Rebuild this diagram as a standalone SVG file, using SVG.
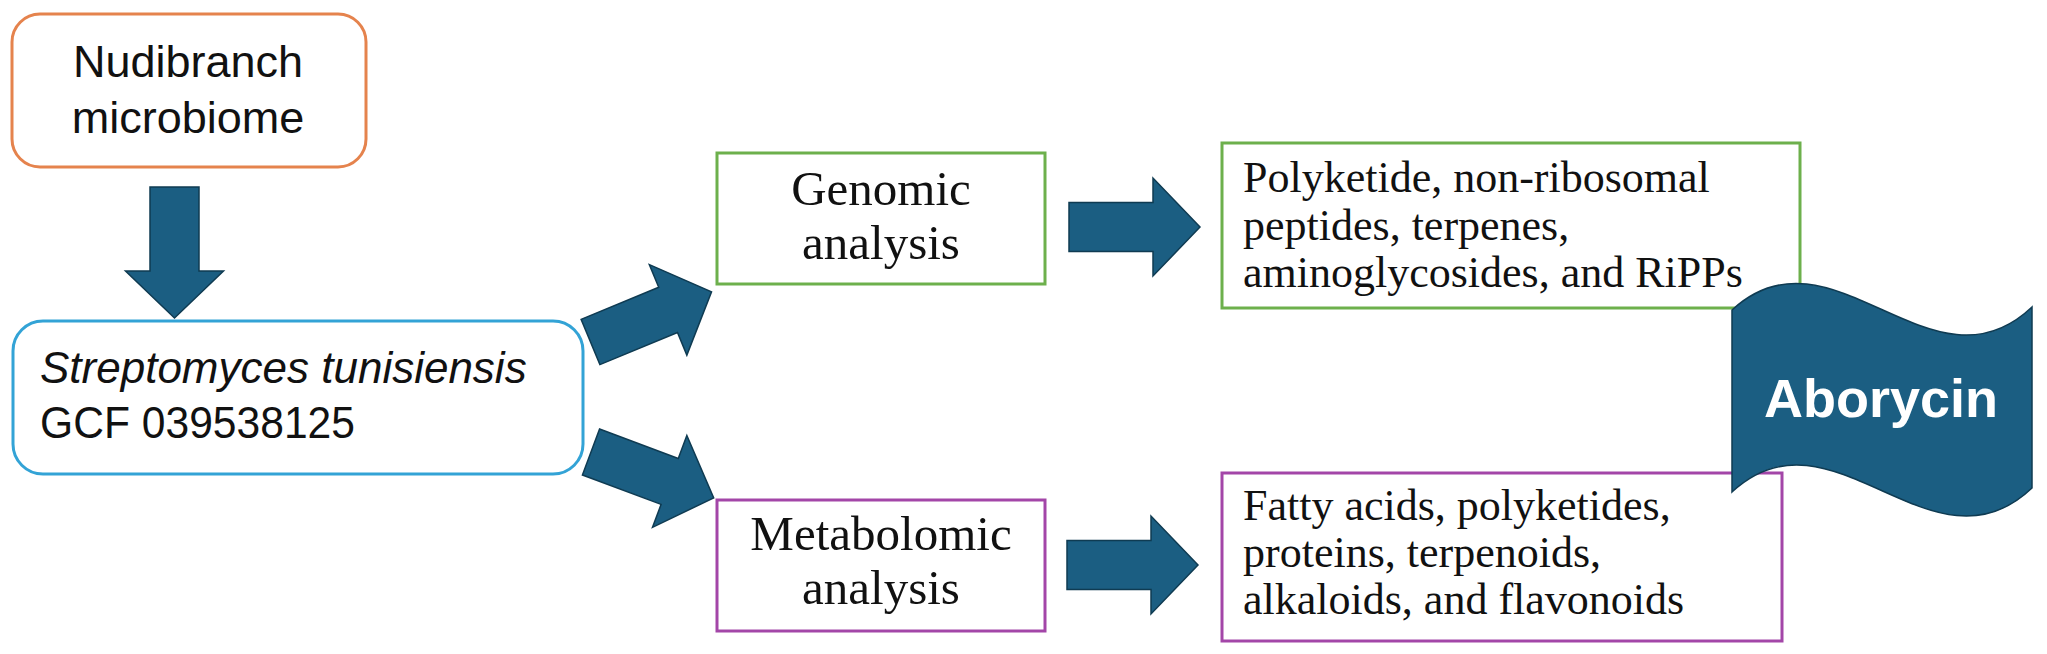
<svg xmlns="http://www.w3.org/2000/svg" width="2047" height="654" viewBox="0 0 2047 654">
<style>
.sans{font-family:"Liberation Sans",Arial,sans-serif;fill:#111}
.serif{font-family:"Liberation Serif","Times New Roman",serif;fill:#111}
.box{fill:#fff;stroke-width:3}
.arrow{fill:#1B5E82;stroke:#0F3B52;stroke-width:1.5;stroke-linejoin:miter}
</style>
<defs>
<path id="arr" d="M0,-24.5 H84 V-49 L131,0 L84,49 V24.5 H0 Z"/>
</defs>
<rect width="2047" height="654" fill="#fff"/>

<g id="connectors">
<use href="#arr" class="arrow" transform="translate(174.5,187) rotate(90)"/>
<use href="#arr" class="arrow" transform="translate(590.5,342) rotate(-22.5)"/>
<use href="#arr" class="arrow" transform="translate(591,452) rotate(20.5)"/>
<use href="#arr" class="arrow" transform="translate(1069,227)"/>
<use href="#arr" class="arrow" transform="translate(1067,565)"/>
</g>

<g id="nudibranch">
<rect class="box" x="12" y="14" width="354" height="153" rx="28" stroke="#E5834D"/>
<text class="sans" x="188" y="77" font-size="45" text-anchor="middle">Nudibranch</text>
<text class="sans" x="188" y="133" font-size="45" text-anchor="middle">microbiome</text>
</g>

<g id="streptomyces">
<rect class="box" x="13" y="321" width="570" height="153" rx="30" stroke="#33A3D6"/>
<text class="sans" x="40" y="383" font-size="44" font-style="italic">Streptomyces tunisiensis</text>
<text class="sans" x="40" y="438" font-size="44" textLength="315" lengthAdjust="spacingAndGlyphs">GCF 039538125</text>
</g>

<g id="genomic">
<rect class="box" x="717" y="153" width="328" height="131" stroke="#6DB04C"/>
<text class="serif" x="881" y="205" font-size="49" text-anchor="middle">Genomic</text>
<text class="serif" x="881" y="259" font-size="49" text-anchor="middle">analysis</text>
</g>

<g id="metabolomic">
<rect class="box" x="717" y="500" width="328" height="131" stroke="#A346A8"/>
<text class="serif" x="881" y="550" font-size="49" text-anchor="middle">Metabolomic</text>
<text class="serif" x="881" y="604" font-size="49" text-anchor="middle">analysis</text>
</g>

<g id="genomic-products">
<rect class="box" x="1222" y="143" width="578" height="165" stroke="#6DB04C"/>
<text class="serif" x="1243" y="192" font-size="44">Polyketide, non-ribosomal</text>
<text class="serif" x="1243" y="239.5" font-size="44">peptides, terpenes,</text>
<text class="serif" x="1243" y="287" font-size="44">aminoglycosides, and RiPPs</text>
</g>

<g id="metabolomic-products">
<rect class="box" x="1222" y="473" width="560" height="168" stroke="#A346A8"/>
<text class="serif" x="1243" y="520" font-size="44">Fatty acids, polyketides,</text>
<text class="serif" x="1243" y="567" font-size="44">proteins, terpenoids,</text>
<text class="serif" x="1243" y="614" font-size="44">alkaloids, and flavonoids</text>
</g>

<g id="aborycin">
<path d="M1732,310 C1832,218 1932,402 2032,307 L2032,488 C1932,583 1832,399 1732,492 Z" fill="#1B5E82" stroke="#0F3B52" stroke-width="1.5"/>
<text x="1881" y="417" font-family="'Liberation Sans',Arial,sans-serif" font-weight="bold" font-size="54" fill="#fff" text-anchor="middle">Aborycin</text>
</g>
</svg>
